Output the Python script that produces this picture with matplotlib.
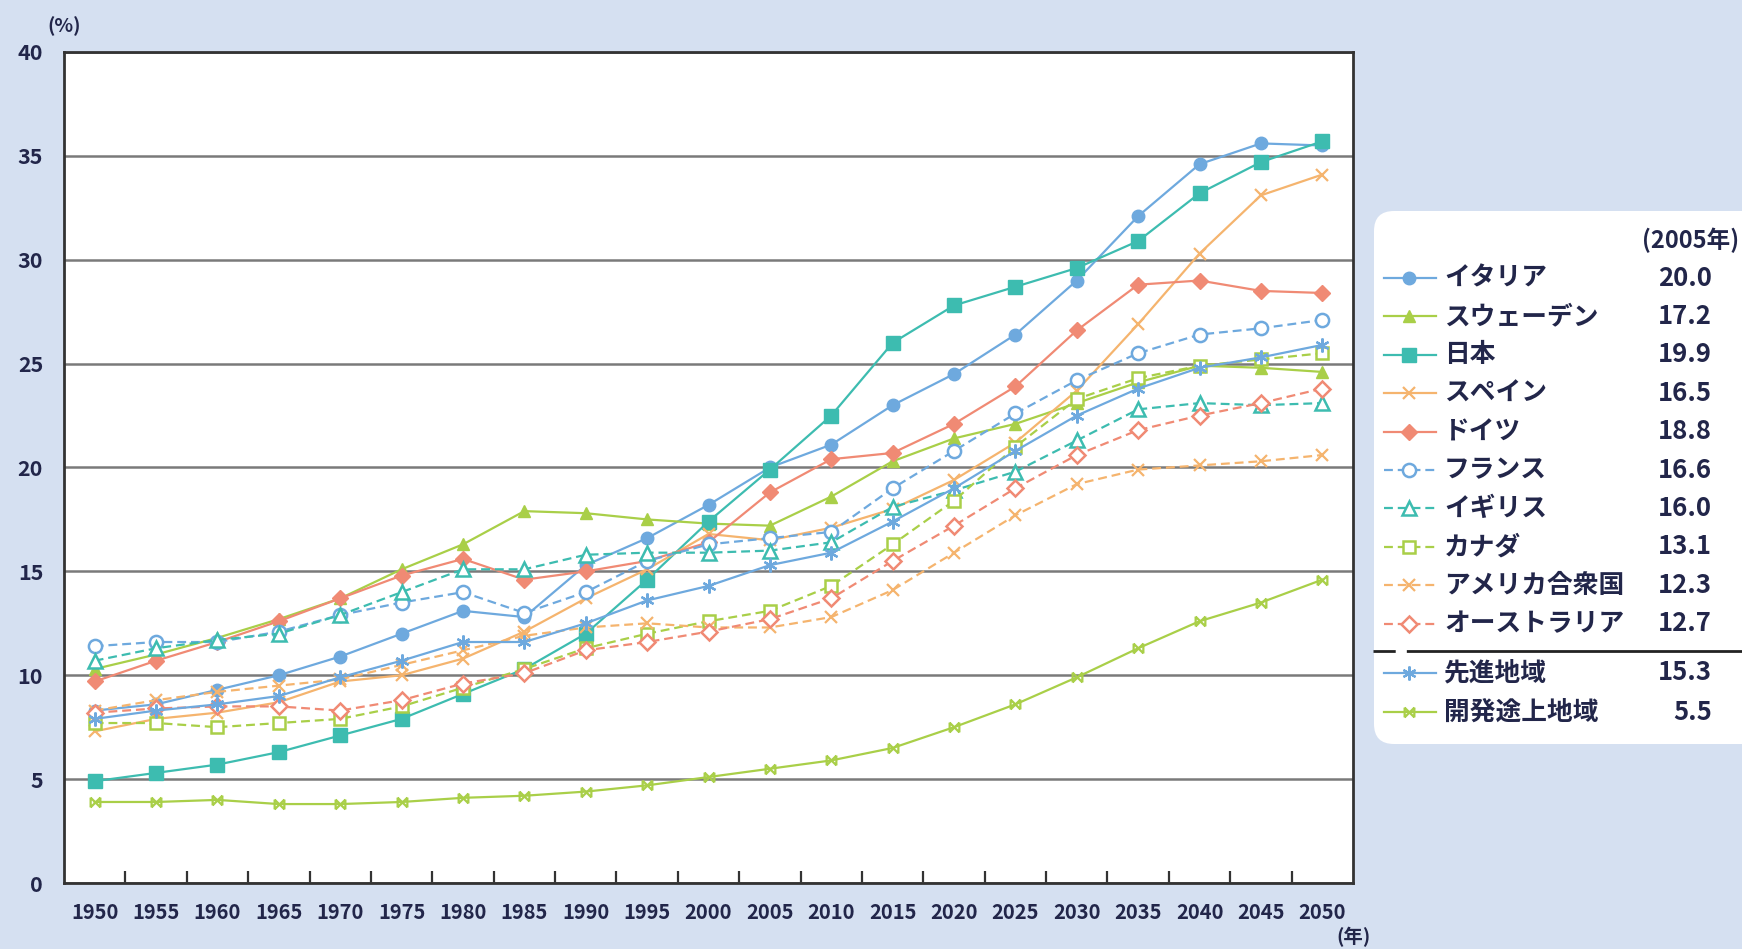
import matplotlib
matplotlib.use("Agg")
import matplotlib.pyplot as plt
from matplotlib.path import Path
from matplotlib.patches import FancyBboxPatch

plt.rcParams['font.family'] = ['Noto Sans CJK JP', 'DejaVu Sans']

# ---- data: share of population aged 65+ (%) ----
years = [1950, 1955, 1960, 1965, 1970, 1975, 1980, 1985, 1990, 1995, 2000,
         2005, 2010, 2015, 2020, 2025, 2030, 2035, 2040, 2045, 2050]

italy = [8.3, 8.6, 9.3, 10.0, 10.9, 12.0, 13.1, 12.8, 15.3, 16.6, 18.2,
         20.0, 21.1, 23.0, 24.5, 26.4, 29.0, 32.1, 34.6, 35.6, 35.5]
sweden = [10.3, 11.0, 11.8, 12.7, 13.7, 15.1, 16.3, 17.9, 17.8, 17.5, 17.3,
          17.2, 18.6, 20.3, 21.4, 22.1, 23.1, 24.1, 24.9, 24.8, 24.6]
japan = [4.9, 5.3, 5.7, 6.3, 7.1, 7.9, 9.1, 10.3, 12.0, 14.6, 17.4,
         19.9, 22.5, 26.0, 27.8, 28.7, 29.6, 30.9, 33.2, 34.7, 35.7]
spain = [7.3, 7.9, 8.2, 8.7, 9.7, 10.0, 10.8, 12.1, 13.7, 15.1, 16.8,
         16.5, 17.1, 18.0, 19.4, 21.2, 23.7, 26.9, 30.3, 33.1, 34.1]
germany = [9.7, 10.7, 11.6, 12.6, 13.7, 14.8, 15.6, 14.6, 15.0, 15.5, 16.4,
           18.8, 20.4, 20.7, 22.1, 23.9, 26.6, 28.8, 29.0, 28.5, 28.4]
france = [11.4, 11.6, 11.6, 12.1, 12.9, 13.5, 14.0, 13.0, 14.0, 15.5, 16.3,
          16.6, 16.9, 19.0, 20.8, 22.6, 24.2, 25.5, 26.4, 26.7, 27.1]
uk = [10.7, 11.3, 11.7, 12.0, 12.9, 14.0, 15.1, 15.1, 15.8, 15.9, 15.9,
      16.0, 16.4, 18.1, 18.9, 19.8, 21.3, 22.8, 23.1, 23.0, 23.1]
canada = [7.7, 7.7, 7.5, 7.7, 7.9, 8.5, 9.4, 10.3, 11.3, 12.0, 12.6,
          13.1, 14.3, 16.3, 18.4, 21.0, 23.3, 24.3, 24.9, 25.2, 25.5]
usa = [8.3, 8.8, 9.2, 9.5, 9.8, 10.5, 11.2, 11.9, 12.3, 12.5, 12.3,
       12.3, 12.8, 14.1, 15.9, 17.7, 19.2, 19.9, 20.1, 20.3, 20.6]
australia = [8.2, 8.4, 8.5, 8.5, 8.3, 8.8, 9.6, 10.1, 11.2, 11.6, 12.1,
             12.7, 13.7, 15.5, 17.2, 19.0, 20.6, 21.8, 22.5, 23.1, 23.8]
developed = [7.9, 8.3, 8.6, 9.0, 9.9, 10.7, 11.6, 11.6, 12.5, 13.6, 14.3,
             15.3, 15.9, 17.4, 19.0, 20.8, 22.5, 23.8, 24.8, 25.3, 25.9]
developing = [3.9, 3.9, 4.0, 3.8, 3.8, 3.9, 4.1, 4.2, 4.4, 4.7, 5.1,
              5.5, 5.9, 6.5, 7.5, 8.6, 9.9, 11.3, 12.6, 13.5, 14.6]

country_names = ['イタリア', 'スウェーデン', '日本', 'スペイン', 'ドイツ',
                 'フランス', 'イギリス', 'カナダ', 'アメリカ合衆国', 'オーストラリア']
region_names = ['先進地域', '開発途上地域']
legend_year = 2005

# ---- styles ----
BLUE = '#6ea9de'
GREEN = '#a9cf48'
TEAL = '#3dbcb0'
ORANGE = '#f5b46e'
SALMON = '#f08a74'
BG = '#d5e0f1'
TXT = '#22264a'

bowtie = Path([(-1, -1), (1, 1), (-1, 1), (1, -1), (-1, -1), (-1, 1), (1, -1), (1, 1)],
              [Path.MOVETO, Path.LINETO, Path.MOVETO, Path.LINETO,
               Path.MOVETO, Path.LINETO, Path.MOVETO, Path.LINETO])
asterisk = (6, 2, 0)

SOLID = '-'
DASH = (0, (4, 2.2))

series = [
    (italy, BLUE, 'o', True, SOLID, 9.0),
    (sweden, GREEN, '^', True, SOLID, 9.0),
    (japan, TEAL, 's', True, SOLID, 9.5),
    (spain, ORANGE, 'x', False, SOLID, 8.0),
    (germany, SALMON, 'D', True, SOLID, 8.0),
    (france, BLUE, 'o', False, DASH, 9.5),
    (uk, TEAL, '^', False, DASH, 9.5),
    (canada, GREEN, 's', False, DASH, 9.0),
    (usa, ORANGE, 'x', False, DASH, 8.0),
    (australia, SALMON, 'D', False, DASH, 8.5),
    (developed, BLUE, asterisk, False, SOLID, 10.0),
    (developing, GREEN, bowtie, False, SOLID, 7.0),
]
names = country_names + region_names


def style_kwargs(color, marker, filled, ls, ms):
    kw = dict(color=color, linestyle=ls, linewidth=1.6, marker=marker,
              markersize=ms, markeredgecolor=color)
    if marker in ('x', asterisk) or marker is bowtie:
        kw.update(markerfacecolor='none', markeredgewidth=1.6)
    elif filled:
        kw.update(markerfacecolor=color, markeredgewidth=1.0)
    else:
        kw.update(markerfacecolor='white', markeredgewidth=1.8)
    return kw


W, H = 1742, 949
fig = plt.figure(figsize=(W / 100, H / 100), dpi=100, facecolor=BG)
ax = fig.add_axes([64 / W, (H - 883) / H, 1289 / W, 831 / H])
ax.set_facecolor('white')

xpos = list(range(len(years)))
for (vals, color, marker, filled, ls, ms) in series:
    ax.plot(xpos, vals, zorder=3, **style_kwargs(color, marker, filled, ls, ms))

ax.set_xlim(-0.5, len(years) - 0.5)
ax.set_ylim(0, 40)
ax.set_yticks(range(0, 41, 5))
ax.set_xticks(xpos)
ax.set_xticklabels([str(y) for y in years])
ax.set_xticks([i + 0.5 for i in xpos[:-1]], minor=True)
ax.tick_params(axis='x', which='major', length=0, pad=14, labelsize=14.5, labelcolor=TXT)
ax.tick_params(axis='x', which='minor', direction='in', length=9, width=1.6, color='#333333')
ax.tick_params(axis='y', length=0, pad=15, labelsize=15.5, labelcolor=TXT)
for lab in ax.get_xticklabels() + ax.get_yticklabels():
    lab.set_fontweight('bold')

ax.yaxis.grid(True, color='#7a7a7a', linewidth=1.8, zorder=1)
ax.set_axisbelow(True)
for sp in ax.spines.values():
    sp.set_color('#333333')
    sp.set_linewidth(2.0)

fig.text(64 / W, 1 - 26 / H, '(%)', ha='center', va='center', fontsize=14,
         color=TXT, fontweight='bold')
fig.text(1353 / W, 1 - 937 / H, '(年)', ha='center', va='center', fontsize=14,
         color=TXT, fontweight='bold')

# ---- legend panel drawn in figure pixel space ----
lax = fig.add_axes([0, 0, 1, 1], facecolor='none')
lax.set_xlim(0, W)
lax.set_ylim(H, 0)
lax.axis('off')

lax.add_patch(FancyBboxPatch((1374, 211), 420, 533,
                             boxstyle='round,pad=0,rounding_size=20',
                             facecolor='white', edgecolor='none', zorder=1))
lax.text(1739, 240, f'({legend_year}年)', ha='right', va='center', fontsize=17,
         color=TXT, fontweight='bold', zorder=3)

yi = years.index(legend_year)
row_y = [278 + 38.4 * k for k in range(10)] + [673, 712]
for k, ((vals, color, marker, filled, ls, ms), name) in enumerate(zip(series, names)):
    y = row_y[k]
    kw = style_kwargs(color, marker, filled, ls, ms)
    lax.plot([1384, 1409, 1436], [y, y, y], markevery=[1], zorder=3, **kw)
    lax.text(1444, y, name, ha='left', va='center', fontsize=18.5,
             color=TXT, fontweight='bold', zorder=3)
    lax.text(1712, y, f'{vals[yi]:.1f}', ha='right', va='center', fontsize=18.5,
             color=TXT, fontweight='bold', zorder=3)

lax.plot([1373, 1742], [651, 651], color='#222222', linewidth=2.0,
         linestyle=(0, (8, 4, 205, 4, 18, 4, 18, 4, 18, 4, 120)), zorder=3)

fig.savefig('out.png', dpi=100, facecolor=BG)
